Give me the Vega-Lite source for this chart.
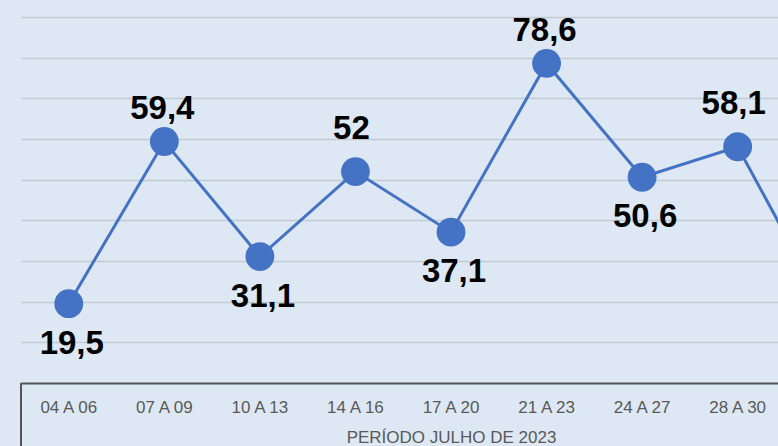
{
  "$schema": "https://vega.github.io/schema/vega-lite/v6.json",
  "width": 757,
  "height": 383,
  "autosize": {"type": "none"},
  "padding": {"left": 21, "top": 0, "right": 0, "bottom": 63},
  "background": "#dde8f4",
  "config": {
    "view": {"stroke": null},
    "font": "Liberation Sans",
    "locale": {"number": {"decimal": ",", "thousands": ".", "grouping": [3], "currency": ["R$ ", ""]}}
  },
  "data": {
    "values": [
      {"periodo": "04 A 06", "valor": 19.5},
      {"periodo": "07 A 09", "valor": 59.4},
      {"periodo": "10 A 13", "valor": 31.1},
      {"periodo": "14 A 16", "valor": 52},
      {"periodo": "17 A 20", "valor": 37.1},
      {"periodo": "21 A 23", "valor": 78.6},
      {"periodo": "24 A 27", "valor": 50.6},
      {"periodo": "28 A 30", "valor": 58.1},
      {"periodo": "31", "valor": 14.7}
    ]
  },
  "encoding": {
    "x": {
      "field": "periodo",
      "type": "nominal",
      "sort": null,
      "scale": {"type": "band", "range": [0, 860], "paddingInner": 0, "paddingOuter": 0},
      "axis": {
        "title": "PERÍODO JULHO DE 2023",
        "domainColor": "#555555",
        "domainWidth": 2,
        "ticks": false,
        "tickSize": 0,
        "grid": false,
        "labelAngle": 0,
        "labelFont": "Liberation Sans",
        "labelFontSize": 17,
        "labelColor": "#595959",
        "labelPadding": 29,
        "labelBaseline": "alphabetic",
        "titleFont": "Liberation Sans",
        "titleFontSize": 17,
        "titleFontWeight": "normal",
        "titleColor": "#595959",
        "titleBaseline": "alphabetic",
        "titleY": 59.5
      }
    },
    "y": {
      "field": "valor",
      "type": "quantitative",
      "scale": {"domain": [0, 94.2], "nice": false, "zero": true},
      "axis": {
        "title": null,
        "domain": false,
        "ticks": false,
        "labels": false,
        "values": [10, 20, 30, 40, 50, 60, 70, 80, 90],
        "gridColor": "#c3c9d0",
        "gridWidth": 1.5
      }
    }
  },
  "layer": [
    {
      "transform": [{"filter": "datum.periodo == '04 A 06'"}],
      "mark": {"type": "rule", "color": "#555555", "strokeWidth": 2},
      "encoding": {
        "x": {"field": "periodo", "type": "nominal", "bandPosition": 0},
        "y": {"datum": 0, "type": "quantitative"},
        "y2": {"datum": -16}
      }
    },
    {
      "mark": {"type": "line", "color": "#4472c4", "strokeWidth": 3}
    },
    {
      "mark": {"type": "circle", "color": "#4472c4", "size": 830, "opacity": 1}
    },
    {
      "transform": [{"filter": {"field": "periodo", "oneOf": ["07 A 09", "21 A 23"]}}],
      "mark": {"type": "text", "fontSize": 33, "fontWeight": "bold", "color": "#000000", "baseline": "alphabetic", "dy": -22, "dx": -2},
      "encoding": {"text": {"field": "valor", "type": "quantitative", "format": "~g"}}
    },
    {
      "transform": [{"filter": {"field": "periodo", "oneOf": ["14 A 16", "28 A 30"]}}],
      "mark": {"type": "text", "fontSize": 33, "fontWeight": "bold", "color": "#000000", "baseline": "alphabetic", "dy": -33, "dx": -4},
      "encoding": {"text": {"field": "valor", "type": "quantitative", "format": "~g"}}
    },
    {
      "transform": [{"filter": {"field": "periodo", "oneOf": ["04 A 06", "10 A 13", "17 A 20", "24 A 27"]}}],
      "mark": {"type": "text", "fontSize": 33, "fontWeight": "bold", "color": "#000000", "baseline": "alphabetic", "dy": 50, "dx": 3},
      "encoding": {"text": {"field": "valor", "type": "quantitative", "format": "~g"}}
    }
  ]
}
